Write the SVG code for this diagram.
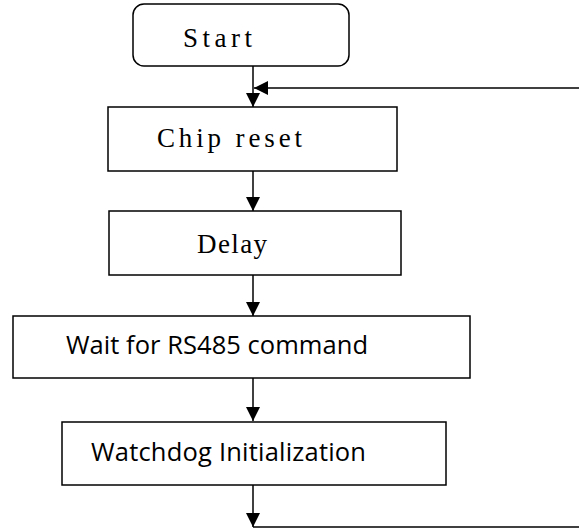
<svg xmlns="http://www.w3.org/2000/svg" width="579" height="529" viewBox="0 0 579 529">
<style>
.box{fill:#fff;stroke:#000;stroke-width:1.5}
.mono{font-family:"Liberation Serif","DejaVu Serif",serif;font-size:27px;fill:#000}
.sans{font-family:"Open Sans","Liberation Sans",sans-serif;font-size:25.5px;fill:#000}
.ln{fill:none;stroke:#000;stroke-width:1.5}
</style>
<defs>
<marker id="ah" markerUnits="userSpaceOnUse" markerWidth="16" markerHeight="14" refX="14" refY="7" orient="auto">
<path d="M0,0 L14,7 L0,14 Z" fill="#000"/>
</marker>
</defs>
<rect width="579" height="529" fill="#fff"/>
<g id="connectors">
<line class="ln" x1="253" y1="66" x2="253" y2="107" marker-end="url(#ah)"/>
<line class="ln" x1="579" y1="88" x2="254" y2="88" marker-end="url(#ah)"/>
<line class="ln" x1="253" y1="171" x2="253" y2="211" marker-end="url(#ah)"/>
<line class="ln" x1="253" y1="275" x2="253" y2="316" marker-end="url(#ah)"/>
<line class="ln" x1="253" y1="378" x2="253" y2="421" marker-end="url(#ah)"/>
<line class="ln" x1="253" y1="485" x2="253" y2="527" marker-end="url(#ah)"/>
<line class="ln" x1="253" y1="527" x2="579" y2="527"/>
</g>
<g id="start">
<rect class="box" x="133" y="4" width="216" height="62" rx="11"/>
<text class="mono" x="183" y="47" textLength="69" lengthAdjust="spacing">Start</text>
</g>
<g id="chip-reset">
<rect class="box" x="108" y="107" width="289" height="64"/>
<text class="mono" x="157" y="147" textLength="145" lengthAdjust="spacing">Chip reset</text>
</g>
<g id="delay">
<rect class="box" x="109" y="211" width="292" height="64"/>
<text class="mono" x="197" y="253" textLength="70" lengthAdjust="spacing">Delay</text>
</g>
<g id="wait">
<rect class="box" x="13" y="316" width="457" height="62"/>
<text class="sans" x="66" y="354" textLength="302" lengthAdjust="spacing">Wait for RS485 command</text>
</g>
<g id="watchdog">
<rect class="box" x="62" y="422" width="384" height="63"/>
<text class="sans" x="91" y="461" textLength="275" lengthAdjust="spacing">Watchdog Initialization</text>
</g>
</svg>
